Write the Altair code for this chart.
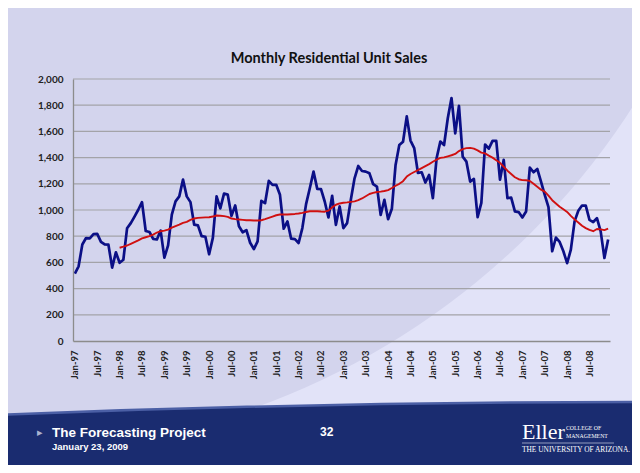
import altair as alt
import pandas as pd

MONTH_NAMES = ["Jan", "Feb", "Mar", "Apr", "May", "Jun",
               "Jul", "Aug", "Sep", "Oct", "Nov", "Dec"]
YEARS = ["97", "98", "99", "00", "01", "02", "03", "04", "05", "06", "07", "08"]
MONTHS = [f"{m}-{y}" for y in YEARS for m in MONTH_NAMES]

SALES = [
    515, 570, 737, 786, 783, 816, 818, 757, 737, 735, 560, 677,      # 1997
    597, 620, 860, 900, 950, 1002, 1060, 840, 832, 780, 775, 843,    # 1998
    636, 730, 965, 1066, 1104, 1232, 1104, 1060, 888, 883, 800, 796, # 1999
    662, 787, 1104, 1012, 1125, 1117, 955, 1035, 876, 830, 847, 750, # 2000
    702, 760, 1070, 1052, 1222, 1192, 1192, 1116, 857, 913, 781, 778,# 2001
    748, 862, 1045, 1166, 1293, 1161, 1159, 1065, 943, 1108, 887, 1027,  # 2002
    862, 900, 1078, 1242, 1336, 1298, 1293, 1280, 1197, 1179, 963, 1078, # 2003
    930, 1009, 1344, 1496, 1521, 1715, 1530, 1472, 1283, 1288, 1210, 1268,  # 2004
    1090, 1395, 1522, 1496, 1700, 1855, 1585, 1795, 1407, 1369, 1217, 1237, # 2005
    945, 1055, 1500, 1468, 1528, 1528, 1231, 1383, 1091, 1095, 990, 984,    # 2006
    943, 989, 1323, 1288, 1313, 1217, 1116, 1022, 685, 790, 756, 685,       # 2007
    594, 697, 913, 994, 1034, 1034, 925, 908, 938, 837, 634, 775,           # 2008
]

# 12-month moving average, starting Jan-98
MOVING_AVG = [
    712, 720, 729, 742, 755, 768, 783, 792, 800, 812, 828, 838,
    843, 850, 865, 877, 888, 902, 910, 925, 935, 940, 942, 944,
    945, 950, 958, 956, 953, 948, 935, 930, 928, 925, 922, 922,
    920, 920, 922, 930, 940, 950, 960, 966, 966, 966, 968, 970,
    973, 978, 985, 990, 991, 990, 988, 987, 995, 1020, 1040, 1050,
    1055, 1058, 1062, 1066, 1075, 1088, 1105, 1122, 1131, 1137, 1140, 1145,
    1152, 1168, 1185, 1200, 1220, 1255, 1275, 1290, 1305, 1320, 1335, 1350,
    1368, 1385, 1398, 1402, 1410, 1418, 1428, 1450, 1465, 1472, 1474, 1468,
    1455, 1438, 1432, 1415, 1400, 1380, 1360, 1330, 1300, 1275, 1250, 1235,
    1228, 1227, 1222, 1200, 1178, 1155, 1140, 1110, 1075, 1050, 1025, 1005,
    985, 955, 928, 905, 880, 862, 848, 838, 855, 852, 846, 857,
]

TICK_LABELS = MONTHS[::6]
Y_TICKS = [0, 200, 400, 600, 800, 1000, 1200, 1400, 1600, 1800, 2000]
GRID_VALUES = Y_TICKS[1:]

TITLE = "Monthly Residential Unit Sales"

sales_df = pd.DataFrame({"month": MONTHS, "sales": SALES})
avg_df = pd.DataFrame({"month": MONTHS[12:], "avg": MOVING_AVG})
grid_df = pd.DataFrame({"v": GRID_VALUES})
one = pd.DataFrame({"k": [0]})

W, H = 537, 262

DARK_BG = "#d3d4ed"
LIGHT_BG = "#e2e3f8"
NAVY = "#1a2c70"

xscale = alt.Scale(domain=MONTHS, type="point", padding=0.5)
yscale = alt.Scale(domain=[0, 2000])

xaxis = alt.Axis(values=TICK_LABELS, labelAngle=-90, ticks=False, labelPadding=9,
                 domainColor="#8c8c8c", domainWidth=1.3, title=None,
                 labelFont="Lato", labelFontWeight="bold", labelFontSize=9.5,
                 labelColor="#222222", grid=False, labelOverlap=False, zindex=1)
yaxis = alt.Axis(values=Y_TICKS, labelExpr="format(datum.value, ',')",
                 ticks=False, labelPadding=10,
                 domainColor="#8c8c8c", domainWidth=1.3, title=None,
                 labelFont="Lato", labelFontWeight="bold", labelFontSize=10,
                 labelColor="#222222", grid=False, zindex=1)

# slide decoration: darker lavender disc over the lighter background
R1 = 752
disc = alt.Chart(one).mark_circle(color=DARK_BG, opacity=1).encode(
    x=alt.value(-73), y=alt.value(-379), size=alt.value(4 * R1 * R1)
)

# navy footer band with a gently curved top edge
R2 = 16000
band = alt.Chart(one).mark_point(
    shape="circle", filled=True, fill=NAVY, opacity=1,
    stroke="#4b5fa5", strokeWidth=2.5, strokeOpacity=1,
).encode(x=alt.value(567), y=alt.value(323 + R2), size=alt.value(4 * R2 * R2))

grid = alt.Chart(grid_df).mark_rule(color="#a3a3a8", strokeWidth=1.2).encode(
    y=alt.Y("v:Q", scale=yscale, axis=yaxis), x=alt.value(0), x2=alt.value(W)
)

blue = alt.Chart(sales_df).mark_line(color="#0b0f86", strokeWidth=2.7, strokeJoin="round").encode(
    x=alt.X("month:N", sort=MONTHS, scale=xscale, axis=xaxis),
    y=alt.Y("sales:Q", scale=yscale, axis=yaxis),
)

red = alt.Chart(avg_df).mark_line(color="#d01010", strokeWidth=1.9, strokeJoin="round").encode(
    x=alt.X("month:N", sort=MONTHS, scale=xscale, axis=xaxis),
    y=alt.Y("avg:Q", scale=yscale, axis=yaxis),
)


def label(text, x, y, size, color="#ffffff", font="Liberation Sans", weight="bold",
          align="left", baseline="middle"):
    return alt.Chart(pd.DataFrame({"t": [text]})).mark_text(
        font=font, fontSize=size, fontWeight=weight, color=color,
        align=align, baseline=baseline,
    ).encode(text="t:N", x=alt.value(x), y=alt.value(y))


title = label(TITLE, 256, -20, 14.5, color="#111111", font="Lato", align="center")
bullet = label("▸", -36, 354, 11, color="#aab3cf", font="DejaVu Sans")
proj = label("The Forecasting Project", -21, 354, 13.5)
date = label("January 23, 2009", -21, 368, 9.5)
page = label("32", 247, 353, 12)
eller = label("Eller", 449, 353, 22, font="Liberation Serif", weight="normal")
college = label("COLLEGE OF", 493, 349, 5.8, font="Liberation Serif", weight="normal")
mgmt = label("MANAGEMENT", 493, 357, 5.8, font="Liberation Serif", weight="normal")
logo_rule = alt.Chart(one).mark_rule(color="#c8cde0", strokeWidth=0.7).encode(
    x=alt.value(449), x2=alt.value(541), y=alt.value(364)
)
univ = label("THE UNIVERSITY OF ARIZONA.", 449, 371, 7.4, font="Liberation Serif", weight="normal")

chart = alt.layer(
    disc, band, grid, blue, red, title, bullet, proj, date, page,
    eller, college, mgmt, logo_rule, univ,
).properties(
    width=W, height=H,
    padding={"left": 65, "top": 71, "right": 22, "bottom": 124},
    autosize=alt.AutoSizeParams(type="none"),
    background=LIGHT_BG,
).configure_view(strokeWidth=0)

chart.save("out.html", embed_options={"renderer": "svg", "actions": False})
